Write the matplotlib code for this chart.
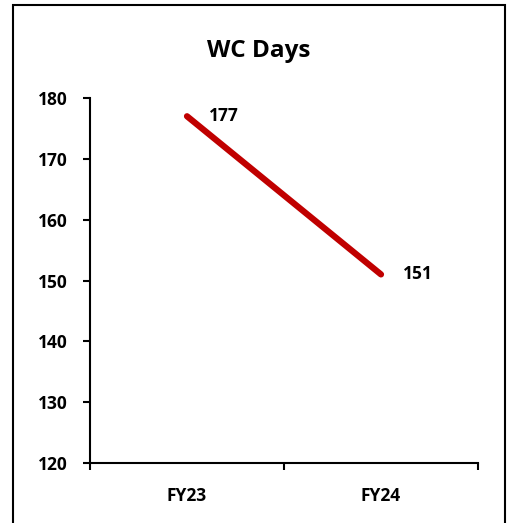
import matplotlib
matplotlib.use("Agg")
import matplotlib.pyplot as plt
from matplotlib.patches import Rectangle

categories = ["FY23", "FY24"]
values = [177, 151]
yticks = [120, 130, 140, 150, 160, 170, 180]
title = "WC Days"

plt.rcParams['font.family'] = ['Open Sans', 'DejaVu Sans']
plt.rcParams['font.weight'] = 'bold'

W, H = 511, 523
fig = plt.figure(figsize=(W / 100, H / 100), dpi=100)
ax = fig.add_axes([90 / W, 1 - 463 / H, (478 - 90) / W, (463 - 98) / H])

FS = 12.5
x = list(range(len(categories)))
ax.plot(x, values, color="#C00000", lw=4.5, solid_capstyle="round")
for xi, v in zip(x, values):
    ax.annotate(str(v), (xi, v), xytext=(22, 0), textcoords="offset pixels",
                ha="left", va="center", fontsize=FS, fontweight="bold")

ax.set_xlim(-0.5, len(categories) - 0.5)
ax.set_ylim(yticks[0], yticks[-1])
ax.set_yticks(yticks)
ax.set_yticklabels([str(t) for t in yticks], fontsize=FS, fontweight="bold")
ax.set_xticks([i - 0.5 for i in range(len(categories) + 1)])
ax.set_xticklabels([])
ax.set_xticks(x, minor=True)
ax.set_xticklabels(categories, minor=True, fontsize=FS, fontweight="bold")
ax.tick_params(axis="x", which="minor", length=0, pad=17)
ax.tick_params(axis="both", which="major", direction="out", length=5, width=1.5)
ax.tick_params(axis="y", pad=11)
for s in ["top", "right"]:
    ax.spines[s].set_visible(False)
for s in ["left", "bottom"]:
    ax.spines[s].set_linewidth(1.5)

fig.text(259 / W, 1 - 51 / H, title, ha="center", va="center", fontsize=17.5, fontweight="bold")

fig.patches.append(Rectangle((13 / W, -0.05), (505 - 13) / W, 1 - 5 / H + 0.05,
                             transform=fig.transFigure, fill=False, ec="black", lw=1.5))

fig.savefig("out.png", dpi=100)
